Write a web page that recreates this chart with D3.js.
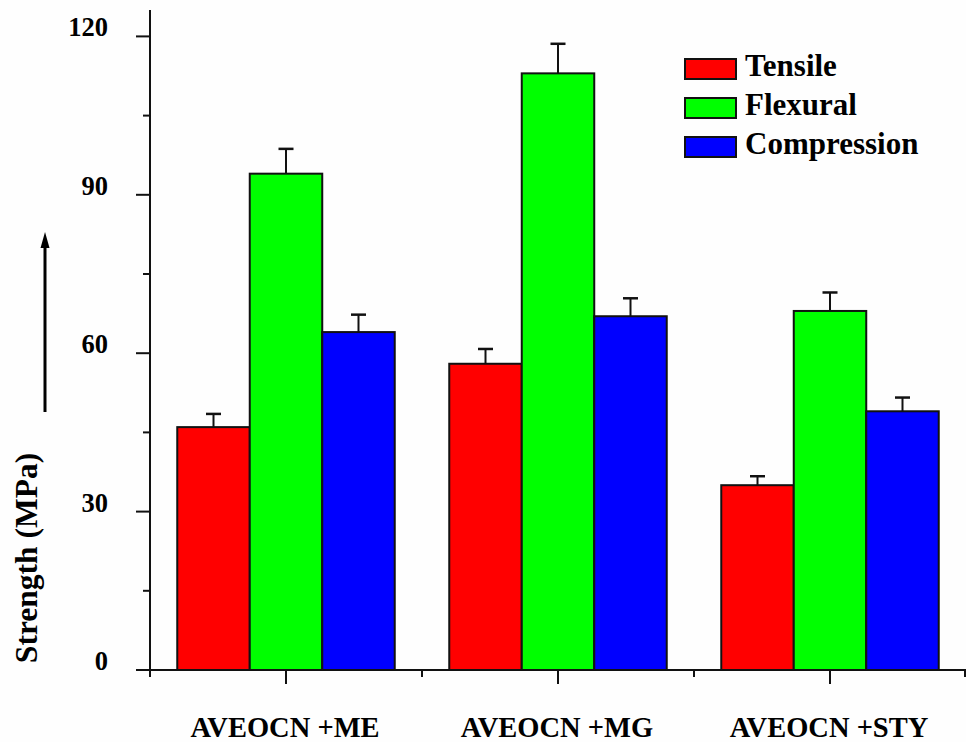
<!DOCTYPE html>
<html>
<head>
<meta charset="utf-8">
<script src="https://cdn.jsdelivr.net/npm/d3@7"></script>
<style>
    html, body { margin: 0; padding: 0; background: #fefefe; }
    svg { display: block; }
    text { font-family: "Liberation Serif", "Times New Roman", serif; font-weight: bold; fill: #000; }
</style>
</head>
<body>
<script>
// categories and series
var groups = ['AVEOCN +ME', 'AVEOCN +MG', 'AVEOCN +STY'];
var series = ['Tensile', 'Flexural', 'Compression'];
var colors = ['#ff0000', '#00ff00', '#0000ff'];

// mean strength per group (MPa), one array per series
var tensile = [46, 58, 35];
var flexural = [94, 113, 68];
var compression = [64, 67, 49];

// upper error (MPa)
var tensileErr = [2.5, 2.8, 1.7];
var flexuralErr = [4.7, 5.6, 3.5];
var compressionErr = [3.3, 3.4, 2.6];

var yTicks = [0, 30, 60, 90, 120];
var yMinorTicks = [15, 45, 75, 105];

var values = [tensile, flexural, compression];
var errors = [tensileErr, flexuralErr, compressionErr];

var width = 966, height = 742;
var marginLeft = 150, axisBottom = 670, axisTop = 10;

var svg = d3.select('body').append('svg')
    .attr('width', width)
    .attr('height', height);

var y = d3.scaleLinear().domain([0, 125]).range([axisBottom, axisTop]);
var x0 = d3.scaleBand().domain(groups).range([marginLeft, width]).padding(0);
var x1 = d3.scaleBand().domain(series).range([0, x0.bandwidth()])
    .paddingInner(0).paddingOuter(0.376);

// flatten to one record per bar
var bars = [];
groups.forEach(function (g, i) {
    series.forEach(function (s, j) {
        bars.push({group: g, serie: s, color: colors[j], value: values[j][i], err: errors[j][i]});
    });
});

var gBars = svg.append('g');

gBars.selectAll('.bar').data(bars).enter().append('rect')
    .attr('class', 'bar')
    .attr('x', function (d) { return x0(d.group) + x1(d.serie); })
    .attr('y', function (d) { return y(d.value); })
    .attr('width', x1.bandwidth())
    .attr('height', function (d) { return y(0) - y(d.value); })
    .style('fill', function (d) { return d.color; })
    .style('stroke', '#111')
    .style('stroke-width', 2);

// error bars, upper half only
var errG = gBars.selectAll('.err').data(bars).enter().append('g')
    .attr('class', 'err')
    .attr('transform', function (d) {
        return 'translate(' + (x0(d.group) + x1(d.serie) + x1.bandwidth() / 2) + ',0)';
    });
errG.append('line')
    .attr('x1', 0).attr('x2', 0)
    .attr('y1', function (d) { return y(d.value); })
    .attr('y2', function (d) { return y(d.value + d.err); })
    .style('stroke', '#111').style('stroke-width', 2);
errG.append('line')
    .attr('x1', -7.5).attr('x2', 7.5)
    .attr('y1', function (d) { return y(d.value + d.err); })
    .attr('y2', function (d) { return y(d.value + d.err); })
    .style('stroke', '#111').style('stroke-width', 2.5);

// y axis
var yAxis = svg.append('g').attr('transform', 'translate(' + marginLeft + ',0)');
yAxis.append('line')
    .attr('x1', 0).attr('x2', 0).attr('y1', axisTop).attr('y2', axisBottom)
    .style('stroke', '#111').style('stroke-width', 2);
yAxis.selectAll('.major').data(yTicks).enter().append('line')
    .attr('class', 'major')
    .attr('x1', -14).attr('x2', 0)
    .attr('y1', function (d) { return y(d); })
    .attr('y2', function (d) { return y(d); })
    .style('stroke', '#111').style('stroke-width', 2);
yAxis.selectAll('.minor').data(yMinorTicks).enter().append('line')
    .attr('class', 'minor')
    .attr('x1', -7).attr('x2', 0)
    .attr('y1', function (d) { return y(d); })
    .attr('y2', function (d) { return y(d); })
    .style('stroke', '#111').style('stroke-width', 2);
yAxis.selectAll('.lbl').data(yTicks).enter().append('text')
    .attr('class', 'lbl')
    .attr('x', -42)
    .attr('y', function (d) { return y(d); })
    .attr('text-anchor', 'end')
    .style('font-size', '26.5px')
    .text(function (d) { return d; });

// x axis
var xAxis = svg.append('g').attr('transform', 'translate(0,' + axisBottom + ')');
xAxis.append('line')
    .attr('x1', marginLeft - 8).attr('x2', width).attr('y1', 0).attr('y2', 0)
    .style('stroke', '#111').style('stroke-width', 2);
var bounds = groups.map(function (g) { return x0(g); }).concat([width - 1]);
xAxis.selectAll('.minor').data(bounds).enter().append('line')
    .attr('class', 'minor')
    .attr('x1', function (d) { return d; }).attr('x2', function (d) { return d; })
    .attr('y1', 0).attr('y2', 7)
    .style('stroke', '#111').style('stroke-width', 2);
xAxis.selectAll('.major').data(groups).enter().append('line')
    .attr('class', 'major')
    .attr('x1', function (d) { return x0(d) + x0.bandwidth() / 2; })
    .attr('x2', function (d) { return x0(d) + x0.bandwidth() / 2; })
    .attr('y1', 0).attr('y2', 14)
    .style('stroke', '#111').style('stroke-width', 2);
xAxis.selectAll('.lbl').data(groups).enter().append('text')
    .attr('class', 'lbl')
    .attr('x', function (d) { return x0(d) + x0.bandwidth() / 2 - 1; })
    .attr('y', 67)
    .attr('text-anchor', 'middle')
    .style('font-size', '28.5px')
    .text(function (d) { return d; });

// y title and arrow
svg.append('text')
    .attr('transform', 'translate(37,558) rotate(-90)')
    .attr('text-anchor', 'middle')
    .style('font-size', '31.5px')
    .text('Strength (MPa)');

svg.append('line')
    .attr('x1', 45).attr('x2', 45).attr('y1', 412).attr('y2', 244)
    .style('stroke', '#000').style('stroke-width', 3);
svg.append('path')
    .attr('d', 'M45,232 L40.5,248 L49.5,248 Z')
    .style('fill', '#000');

// legend
var legend = svg.append('g').attr('transform', 'translate(685,59)');
var item = legend.selectAll('.item').data(series).enter().append('g')
    .attr('class', 'item')
    .attr('transform', function (d, i) { return 'translate(0,' + i * 39 + ')'; });
item.append('rect')
    .attr('width', 51).attr('height', 20)
    .style('fill', function (d, i) { return colors[i]; })
    .style('stroke', '#111').style('stroke-width', 2);
item.append('text')
    .attr('x', 60).attr('y', 17)
    .style('font-size', '31px')
    .text(function (d) { return d; });
</script>
</body>
</html>
